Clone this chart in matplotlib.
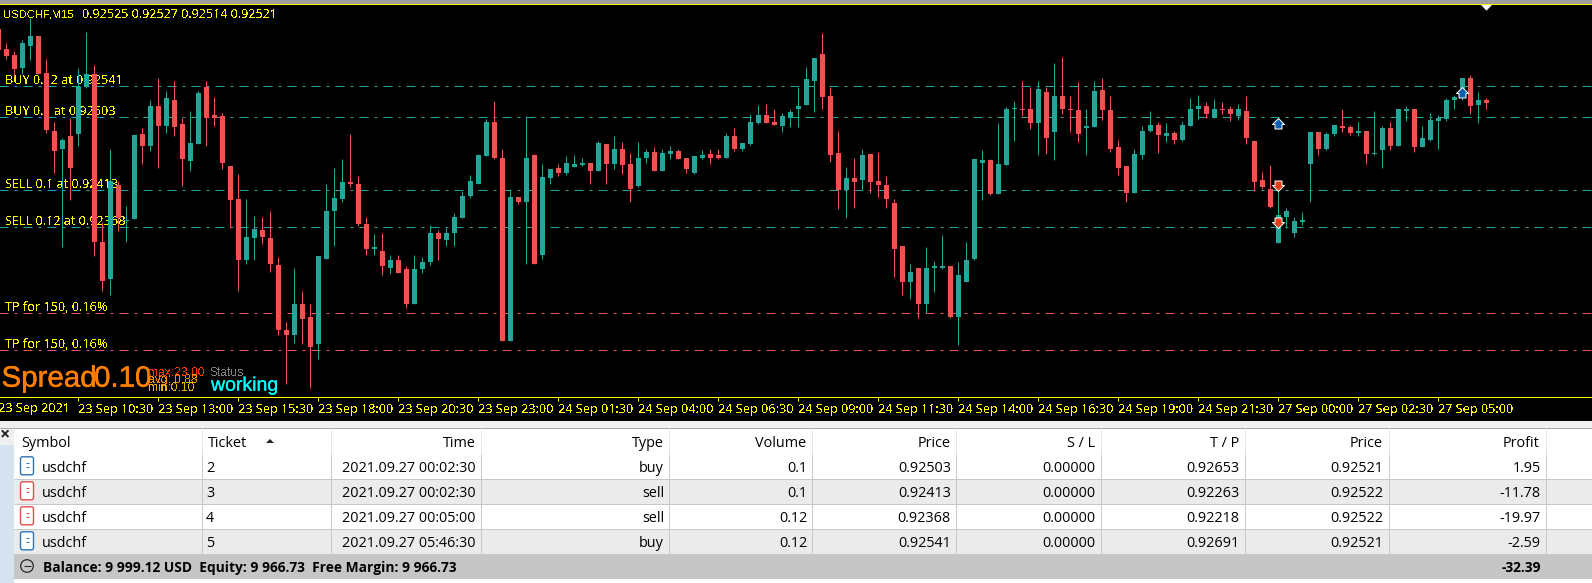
# USDCHF M15 terminal view: candle chart with open trades and the trade table below

import numpy as np
import matplotlib
matplotlib.use("Agg")
import matplotlib.pyplot as plt
import matplotlib.patheffects as pe
from matplotlib.patches import Rectangle, Polygon, Circle, FancyBboxPatch
from matplotlib.path import Path
from matplotlib.transforms import Affine2D

plt.rcParams["lines.scale_dashes"] = False

# prices in 0.00001 units, one entry per 15 minute bar
opens = [
    92611, 92587, 92580, 92564, 92591, 92603, 92557, 92486, 92464, 92480,
    92483, 92540, 92556, 92351, 92305, 92420, 92376, 92379, 92483, 92468,
    92517, 92492, 92525, 92495, 92450, 92470, 92541, 92506, 92505, 92443,
    92403, 92329, 92355, 92365, 92355, 92322, 92243, 92236, 92275, 92258,
    92225, 92330, 92389, 92403, 92424, 92422, 92373, 92342, 92340, 92319,
    92329, 92317, 92275, 92317, 92326, 92361, 92353, 92361, 92380, 92407,
    92422, 92456, 92497, 92453, 92229, 92405, 92400, 92457, 92335, 92429,
    92441, 92435, 92442, 92445, 92447, 92437, 92470, 92446, 92465, 92446,
    92419, 92453, 92461, 92438, 92458, 92462, 92454, 92435, 92454, 92458,
    92457, 92453, 92480, 92464, 92470, 92496, 92506, 92497, 92492, 92503,
    92513, 92518, 92548, 92581, 92529, 92459, 92414, 92429, 92426, 92458,
    92425, 92420, 92398, 92345, 92302, 92318, 92274, 92318, 92319, 92321,
    92258, 92302, 92330, 92447, 92451, 92409, 92445, 92513, 92514, 92513,
    92496, 92534, 92485, 92529, 92514, 92512, 92490, 92491, 92537, 92512,
    92467, 92443, 92411, 92457, 92486, 92494, 92480, 92484, 92475, 92492,
    92513, 92517, 92503, 92514, 92513, 92505, 92511, 92474, 92426, 92416,
    92349, 92381, 92362, 92375, 92446, 92485, 92464, 92483, 92492, 92491,
    92484, 92486, 92458, 92463, 92490, 92468, 92511, 92514, 92467, 92476,
    92499, 92501, 92524, 92527, 92552, 92518, 92525,
]
closes = [
    92586, 92578, 92562, 92594, 92603, 92556, 92488, 92462, 92476, 92441,
    92541, 92556, 92350, 92303, 92425, 92380, 92377, 92481, 92468, 92517,
    92492, 92527, 92491, 92452, 92472, 92533, 92502, 92503, 92447, 92402,
    92329, 92356, 92366, 92357, 92324, 92243, 92236, 92275, 92256, 92222,
    92333, 92389, 92404, 92424, 92421, 92372, 92342, 92343, 92321, 92329,
    92313, 92275, 92317, 92326, 92361, 92354, 92361, 92381, 92407, 92425,
    92457, 92497, 92453, 92229, 92405, 92400, 92453, 92323, 92430, 92440,
    92435, 92447, 92446, 92447, 92437, 92472, 92446, 92465, 92445, 92415,
    92454, 92461, 92438, 92459, 92462, 92452, 92440, 92456, 92457, 92454,
    92453, 92480, 92464, 92472, 92497, 92506, 92496, 92494, 92505, 92510,
    92517, 92550, 92576, 92528, 92457, 92414, 92429, 92424, 92457, 92424,
    92420, 92403, 92342, 92302, 92314, 92274, 92319, 92321, 92321, 92258,
    92310, 92329, 92452, 92451, 92409, 92446, 92514, 92514, 92512, 92496,
    92538, 92478, 92529, 92513, 92512, 92483, 92492, 92535, 92512, 92465,
    92441, 92411, 92458, 92486, 92494, 92481, 92484, 92475, 92494, 92514,
    92517, 92507, 92514, 92512, 92507, 92513, 92478, 92424, 92418, 92393,
    92384, 92388, 92376, 92376, 92485, 92464, 92483, 92494, 92490, 92484,
    92486, 92458, 92459, 92490, 92468, 92513, 92514, 92467, 92478, 92500,
    92502, 92525, 92528, 92552, 92517, 92525, 92521,
]
highs = [
    92611, 92594, 92584, 92598, 92625, 92603, 92575, 92497, 92478, 92502,
    92564, 92608, 92567, 92375, 92465, 92425, 92395, 92481, 92490, 92525,
    92552, 92535, 92548, 92502, 92511, 92535, 92548, 92528, 92508, 92443,
    92434, 92403, 92382, 92381, 92389, 92332, 92253, 92319, 92291, 92275,
    92333, 92422, 92441, 92452, 92483, 92431, 92381, 92360, 92361, 92335,
    92335, 92321, 92334, 92332, 92371, 92365, 92367, 92386, 92413, 92432,
    92458, 92501, 92523, 92464, 92416, 92405, 92505, 92458, 92446, 92440,
    92446, 92456, 92457, 92454, 92447, 92474, 92470, 92480, 92473, 92459,
    92473, 92464, 92467, 92465, 92468, 92464, 92454, 92456, 92463, 92465,
    92464, 92484, 92490, 92472, 92507, 92518, 92519, 92514, 92508, 92514,
    92541, 92565, 92576, 92607, 92541, 92486, 92442, 92453, 92464, 92458,
    92461, 92431, 92403, 92345, 92323, 92318, 92344, 92327, 92359, 92321,
    92326, 92350, 92452, 92463, 92452, 92496, 92516, 92523, 92548, 92541,
    92548, 92541, 92570, 92577, 92529, 92546, 92514, 92548, 92551, 92529,
    92475, 92443, 92464, 92492, 92511, 92497, 92496, 92486, 92499, 92527,
    92530, 92522, 92526, 92522, 92517, 92519, 92529, 92474, 92436, 92445,
    92421, 92392, 92381, 92387, 92485, 92485, 92485, 92494, 92514, 92494,
    92497, 92486, 92511, 92492, 92497, 92514, 92517, 92514, 92492, 92508,
    92506, 92527, 92530, 92552, 92555, 92534, 92527,
]
lows = [
    92586, 92575, 92554, 92556, 92573, 92556, 92484, 92435, 92344, 92402,
    92468, 92539, 92333, 92291, 92285, 92364, 92351, 92379, 92446, 92462,
    92441, 92484, 92480, 92419, 92437, 92470, 92468, 92492, 92440, 92368,
    92291, 92324, 92328, 92348, 92314, 92237, 92177, 92227, 92225, 92171,
    92207, 92330, 92346, 92399, 92418, 92370, 92335, 92335, 92310, 92311,
    92312, 92270, 92275, 92313, 92322, 92328, 92345, 92346, 92380, 92404,
    92421, 92456, 92452, 92229, 92229, 92397, 92324, 92323, 92330, 92422,
    92431, 92432, 92442, 92443, 92422, 92437, 92421, 92440, 92434, 92400,
    92418, 92447, 92438, 92438, 92452, 92452, 92435, 92434, 92452, 92446,
    92452, 92453, 92462, 92462, 92469, 92495, 92496, 92494, 92485, 92491,
    92491, 92518, 92510, 92514, 92448, 92391, 92380, 92392, 92414, 92410,
    92405, 92392, 92307, 92286, 92280, 92257, 92264, 92289, 92317, 92257,
    92224, 92302, 92329, 92402, 92408, 92409, 92445, 92474, 92505, 92489,
    92457, 92458, 92451, 92507, 92485, 92473, 92457, 92491, 92500, 92461,
    92432, 92399, 92411, 92452, 92485, 92459, 92473, 92470, 92474, 92492,
    92501, 92502, 92502, 92507, 92499, 92500, 92470, 92413, 92415, 92392,
    92349, 92367, 92356, 92371, 92400, 92457, 92463, 92480, 92485, 92481,
    92480, 92446, 92457, 92441, 92463, 92468, 92499, 92461, 92467, 92474,
    92464, 92499, 92514, 92525, 92507, 92496, 92514,
]

# bar index of each time label, one every 10 bars
tick_bars = [10, 20, 30, 40, 50, 60, 70, 80, 90, 100, 110, 120, 130, 140, 150, 160, 170, 180]
tick_labels = [
    "23 Sep 10:30", "23 Sep 13:00", "23 Sep 15:30", "23 Sep 18:00", "23 Sep 20:30", "23 Sep 23:00",
    "24 Sep 01:30", "24 Sep 04:00", "24 Sep 06:30", "24 Sep 09:00", "24 Sep 11:30", "24 Sep 14:00",
    "24 Sep 16:30", "24 Sep 19:00", "24 Sep 21:30", "27 Sep 00:00", "27 Sep 02:30", "27 Sep 05:00",
]

# open trades
entry_prices = [92541, 92503, 92413, 92368]
entry_bars = [183, 160, 160, 160]
entry_sides = ["buy", "buy", "sell", "sell"]
tp_prices = [92263, 92218]

entry_texts = ["BUY 0.12 at 0.92541", "BUY 0.1 at 0.92503", "SELL 0.1 at 0.92413", "SELL 0.12 at 0.92368"]
entry_text_y = [84, 114.7, 187.7, 224.7]
tp_text_y = [310.7, 347.7]

# trade table
columns = ["Symbol", "Ticket", "Time", "Type", "Volume", "Price", "S / L", "T / P", "Price", "Profit"]
symbols = ["usdchf", "usdchf", "usdchf", "usdchf"]
tickets = ["2", "3", "4", "5"]
times = ["2021.09.27 00:02:30", "2021.09.27 00:02:30", "2021.09.27 00:05:00", "2021.09.27 05:46:30"]
types = ["buy", "sell", "sell", "buy"]
volumes = ["0.1", "0.1", "0.12", "0.12"]
open_prices = ["0.92503", "0.92413", "0.92368", "0.92541"]
stops = ["0.00000", "0.00000", "0.00000", "0.00000"]
targets = ["0.92653", "0.92263", "0.92218", "0.92691"]
cur_prices = ["0.92521", "0.92522", "0.92522", "0.92521"]
profits = ["1.95", "-11.78", "-19.97", "-2.59"]
summary = "Balance: 9 999.12 USD  Equity: 9 966.73  Free Margin: 9 966.73"
total_profit = "-32.39"

BULL = "#26A69A"
BEAR = "#EF5350"
YELLOW = "#FFFF00"
CHART_FONT = "Noto Sans"
SPREAD_FONT = "Liberation Sans"
TABLE_FONT = "Open Sans"
W, H = 1592, 583
PX = 0.72  # one pixel in points at dpi 100


def bar_at(px):
    return (px + 1.5) / 8


fig = plt.figure(figsize=(W / 100, H / 100), dpi=100, facecolor="#F0F0F0")

# pixel canvas for the window frame and the table
ui = fig.add_axes([0, 0, 1, 1], zorder=0)
ui.set_xlim(0, W)
ui.set_ylim(H, 0)
ui.axis("off")
ui.add_patch(Rectangle((0, 0), W, 4, color="#A0A0A0", lw=0))
ui.add_patch(Rectangle((0, 4), W, 417, color="black", lw=0))

# chart, nudged 0.2 px left so wicks land on the centre column of each body
ax = fig.add_axes([0, 1 - 397.4 / H, 1, 393 / H], zorder=1, facecolor="black")
ax.set_xlim(bar_at(0.2), bar_at(W + 0.2))
ax.set_ylim(92160.02, 92641.62)
ax.set_yticks([])
for side in ["left", "right"]:
    ax.spines[side].set_visible(False)
for side in ["top", "bottom"]:
    ax.spines[side].set_color(YELLOW)
    ax.spines[side].set_linewidth(PX)

# order and target lines break into four runs across the chart
run_starts = [-18, 406, 805, 1198]
run_ends = [400, 800, 1192, W]
dash = (0, (9 * PX, 6 * PX, 3 * PX, 6 * PX))
line_trans = ax.transData + Affine2D().translate(0, 0.5)
for prices, color in [(entry_prices, BULL), (tp_prices, BEAR)]:
    for price in prices:
        for x0, x1 in zip(run_starts, run_ends):
            ax.plot([bar_at(x0), bar_at(x1)], [price, price], color=color, lw=PX, ls=dash,
                    dash_capstyle="butt", snap=True, zorder=1, transform=line_trans)


def chart_text(x, y, s, size=12.65, color=YELLOW, aa=False, zorder=2, family=CHART_FONT, stroke=0):
    t = ax.text(x, y, s, transform=ui.transData, fontsize=size * PX, color=color, family=family,
                va="baseline", ha="left", antialiased=aa, zorder=zorder, clip_on=False)
    if stroke:
        t.set_path_effects([pe.withStroke(linewidth=stroke, foreground=color)])


for text, y in zip(entry_texts, entry_text_y):
    chart_text(4.7, y, text)
for y in tp_text_y:
    chart_text(5.2, y, "TP for 150, 0.16%")

# candles sit on top of the lines and labels
bars = np.arange(len(opens))
o = np.array(opens)
c = np.array(closes)
is_bull = c > o
colors = [BULL if up else BEAR for up in is_bull]
ax.vlines(bars, lows, highs, colors=colors, lw=PX, snap=True, zorder=3)
heights = np.maximum(np.abs(c - o), 2)
ax.bar(bars, heights, bottom=np.minimum(o, c), width=5 / 8, color=colors, lw=0, snap=True, zorder=4)

# entry arrows, tip on the entry price
up_shape = [(0, 0), (6, -6), (3.5, -6), (3.5, -10.5), (-3.5, -10.5), (-3.5, -6), (-6, -6), (0, 0)]
down_shape = [(x, -y) for x, y in up_shape]
for price, bar, side in zip(entry_prices, entry_bars, entry_sides):
    shape = up_shape if side == "buy" else down_shape
    ax.plot([bar], [price], marker=Path(shape, closed=True), ms=21 * PX,
            mfc="#0B5FB0" if side == "buy" else "#E2401A", mec="white", mew=PX, ls="none", zorder=5)

# time axis
ax.set_xticks(tick_bars)
ax.set_xticklabels(tick_labels)
ax.tick_params(axis="x", color=YELLOW, length=4 * PX, width=PX, pad=11.3 * PX, labelcolor=YELLOW)
for label in ax.get_xticklabels():
    label.set_fontsize(12.65 * PX)
    label.set_family(CHART_FONT)
    label.set_ha("left")
    label.set_va("baseline")
    label.set_antialiased(False)
chart_text(-1.5, 412.3, "23 Sep 2021", zorder=6)

# header text and indicator readouts
chart_text(3, 17.7, "USDCHF,M15", size=11.2, zorder=6, family=SPREAD_FONT)
chart_text(81.8, 17.7, "0.92525 0.92527 0.92514 0.92521", size=12.55, zorder=6)
chart_text(1.5, 386.7, "Spread", size=29.5, color="#FF8000", aa=True, zorder=6, family=SPREAD_FONT, stroke=0.3)
chart_text(94, 386.7, "0.10", size=29.5, color="#FF8000", aa=True, zorder=6, family=SPREAD_FONT, stroke=0.3)
chart_text(148, 375.7, "max:23.00", size=12, color="#FF3C00", zorder=6, family=SPREAD_FONT)
chart_text(148, 383.5, "avg: 0.88", size=12, color="#FF8C00", zorder=6, family=SPREAD_FONT)
chart_text(148, 391, "min:0.10", size=12, color="#E8B000", zorder=6, family=SPREAD_FONT)
chart_text(210, 375.7, "Status", size=12, color="#808080", zorder=6, family=SPREAD_FONT)
chart_text(211, 390.7, "working", size=19.5, color="#00FFFF", aa=True, zorder=6, family=SPREAD_FONT, stroke=0.15)

# chart shift marker
ax.add_patch(Polygon([(1481, 5), (1492, 5), (1486.5, 10.7)], closed=True, color="#F4F4F4", lw=0,
                     transform=ui.transData, clip_on=False, zorder=6))

# table frame
col_edges = [14, 201.5, 331, 481, 669, 812, 956, 1100.5, 1244.5, 1388.5, 1545.5]
row_edges = [454, 478.5, 503.5, 528.5, 553.5, 578.5]
ui.add_patch(Rectangle((0, 445), 14, H - 445, color="#D5E3F0", lw=0))
ui.add_patch(Rectangle((14, 428), W - 14, H - 428, color="white", lw=0))
ui.add_patch(Rectangle((14, 478.5), W - 14, 25, color="#EBEBEB", lw=0))
ui.add_patch(Rectangle((14, 528.5), W - 14, 25, color="#EBEBEB", lw=0))
ui.add_patch(Rectangle((14, 553.5), W - 14, 25, color="#C6C6C6", lw=0))
ui.hlines(427.5, 0, W, color="#A8A8A8", lw=PX)
ui.hlines(row_edges[1:5], 14, W, color="#C8C8C8", lw=PX)
ui.vlines(col_edges[1:], 454, 553.5, color="#C8C8C8", lw=PX)
ui.vlines(col_edges[1:], 428, 454, color="#E8E8E8", lw=PX)


def table_text(x, y, s, ha="right", weight="normal", size=14.35):
    ui.text(x, y, s, fontsize=size * PX, color="#000000", family=TABLE_FONT, ha=ha, va="baseline", weight=weight)


ui.text(5, 434, "×", fontsize=18 * PX, color="#222222", family=TABLE_FONT, ha="center", va="center", weight="bold")
table_text(21, 447.3, columns[0], ha="left")
table_text(208, 447.3, columns[1], ha="left")
for name, edge in zip(columns[2:], col_edges[3:]):
    table_text(edge - 5.5, 447.3, name)
ui.add_patch(Polygon([(266, 443), (274, 443), (270, 439)], closed=True, color="#222222", lw=0))

baselines = [472.3, 497.3, 522.3, 547.3]
right_cols = [times, types, volumes, open_prices, stops, targets, cur_prices, profits]
for i, y in enumerate(baselines):
    table_text(42, y, symbols[i], ha="left")
    table_text(206, y, tickets[i], ha="left")
    for values, edge in zip(right_cols, col_edges[3:]):
        table_text(edge - 5, y, values[i])
    # order icon, blue for buy and red for sell
    icon_color = "#2E75B6" if types[i] == "buy" else "#E05050"
    ui.add_patch(FancyBboxPatch((20.5, y - 15.5), 13, 18, boxstyle="round,pad=0,rounding_size=2",
                                fc="white", ec=icon_color, lw=PX * 1.4))
    ui.hlines([y - 9.5, y - 5.5], 25.7, 28.7, color=icon_color, lw=PX)

ui.add_patch(Circle((27, 566), 6.3, fc="none", ec="#222222", lw=PX * 1.2))
ui.hlines(566, 23.5, 30.5, color="#222222", lw=PX)
table_text(43, 572.3, summary, ha="left", weight="bold", size=13.8)
table_text(1541.5, 572.3, total_profit, weight="bold", size=13.8)

plt.savefig("out.png", dpi=100, facecolor=fig.get_facecolor())
